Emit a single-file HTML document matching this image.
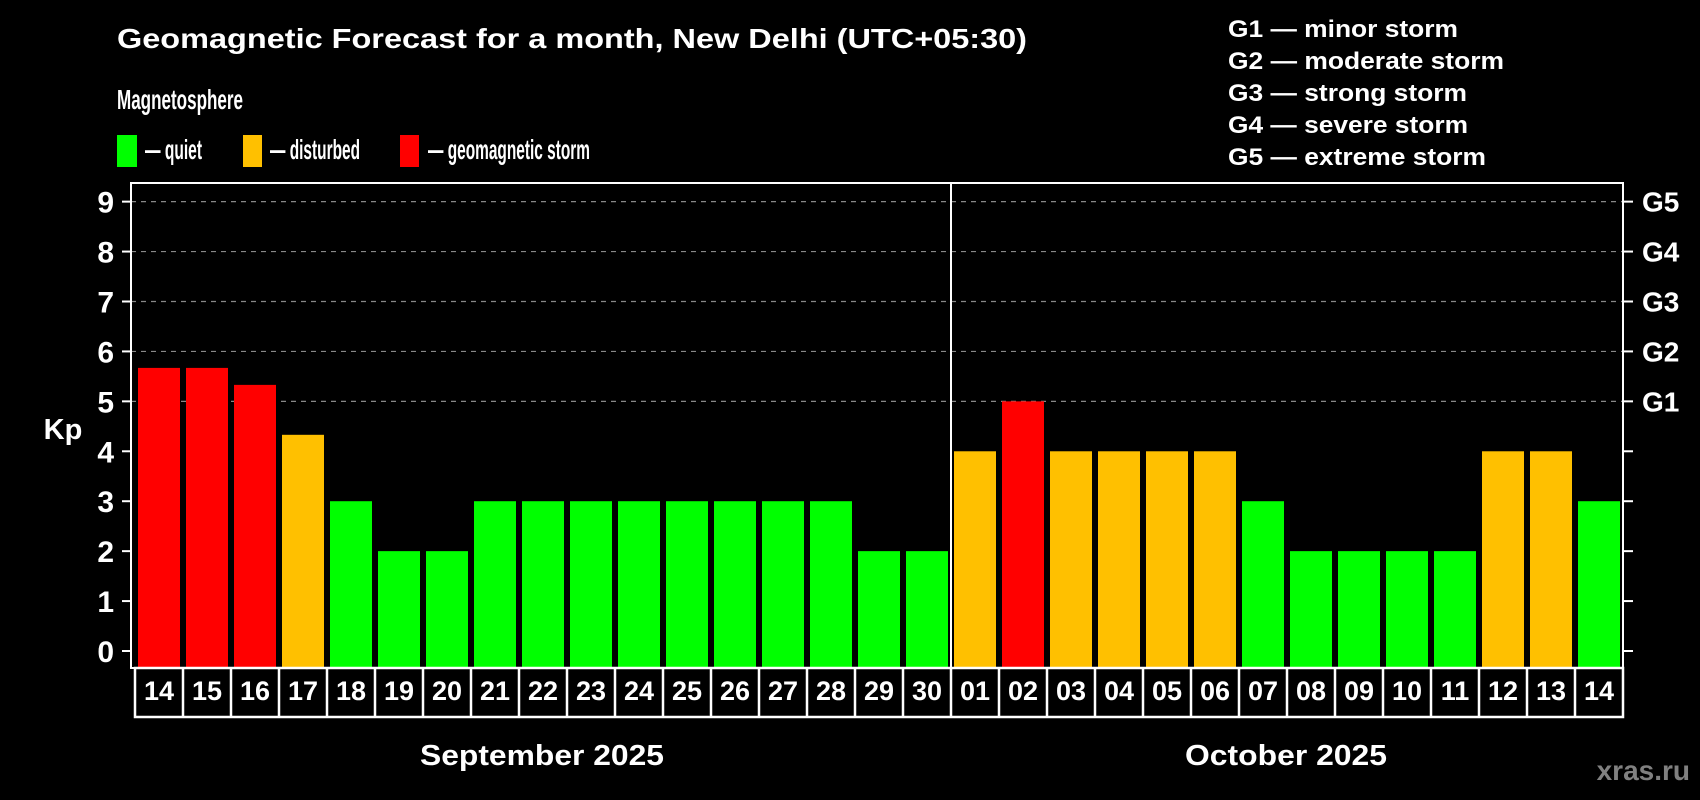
<!DOCTYPE html>
<html><head><meta charset="utf-8"><style>
html,body{margin:0;padding:0;background:#000;}
svg{display:block;font-family:"Liberation Sans",Arial,sans-serif;font-weight:bold;}
</style></head><body>
<svg id="chart" width="1700" height="800" viewBox="0 0 1700 800">
<rect x="0" y="0" width="1700" height="800" fill="#000"/>
<text x="117" y="48" fill="#fff" font-size="28" textLength="910" lengthAdjust="spacingAndGlyphs">Geomagnetic Forecast for a month, New Delhi (UTC+05:30)</text>
<text x="117" y="109" fill="#fff" font-size="28" textLength="126" lengthAdjust="spacingAndGlyphs">Magnetosphere</text>
<g>
<rect x="117" y="135" width="20" height="32" fill="#00ff00"/>
<text x="145" y="159" fill="#fff" font-size="28" textLength="57" lengthAdjust="spacingAndGlyphs">— quiet</text>
</g>
<g>
<rect x="243" y="135" width="19" height="32" fill="#ffc000"/>
<text x="270" y="159" fill="#fff" font-size="28" textLength="90" lengthAdjust="spacingAndGlyphs">— disturbed</text>
</g>
<g>
<rect x="400" y="135" width="19" height="32" fill="#ff0000"/>
<text x="428" y="159" fill="#fff" font-size="28" textLength="162" lengthAdjust="spacingAndGlyphs">— geomagnetic storm</text>
</g>
<g font-size="24" fill="#fff">
<text x="1228" y="37" textLength="230" lengthAdjust="spacingAndGlyphs">G1 — minor storm</text>
<text x="1228" y="69" textLength="276" lengthAdjust="spacingAndGlyphs">G2 — moderate storm</text>
<text x="1228" y="101" textLength="239" lengthAdjust="spacingAndGlyphs">G3 — strong storm</text>
<text x="1228" y="133" textLength="240" lengthAdjust="spacingAndGlyphs">G4 — severe storm</text>
<text x="1228" y="165" textLength="258" lengthAdjust="spacingAndGlyphs">G5 — extreme storm</text>
</g>
<text x="63" y="439" fill="#fff" font-size="29" text-anchor="middle">Kp</text>
<g id="grid"></g>
<g id="bars"></g>
<g id="axes"></g>
<g id="labels"></g>
<text x="542" y="765" fill="#fff" font-size="29" text-anchor="middle" textLength="244" lengthAdjust="spacingAndGlyphs">September 2025</text>
<text x="1286" y="765" fill="#fff" font-size="29" text-anchor="middle" textLength="202" lengthAdjust="spacingAndGlyphs">October 2025</text>
<text x="1690" y="780" fill="#808080" font-size="28" text-anchor="end">xras.ru</text>
</svg>
<script>
const days = ["14","15","16","17","18","19","20","21","22","23","24","25","26","27","28","29","30","01","02","03","04","05","06","07","08","09","10","11","12","13","14"];
const kpValues = [5.67,5.67,5.33,4.33,3,2,2,3,3,3,3,3,3,3,3,2,2,4,5,4,4,4,4,3,2,2,2,2,4,4,3];
const yTicks = [0,1,2,3,4,5,6,7,8,9];
const gLabels = ["G1","G2","G3","G4","G5"];
const gLevels = [5,6,7,8,9];
const monthSplitIndex = 17;

const NS = "http://www.w3.org/2000/svg";
const plotL = 131, plotR = 1623, plotT = 183, plotB = 668;
const y0 = 651, unit = 49.93;
const firstBar = 138, pitch = 48, barW = 42;
function yScale(v){ return y0 - v*unit; }
function xScale(i){ return firstBar + i*pitch; }
function mk(tag, attrs, parent){ const e=document.createElementNS(NS,tag); for(const k in attrs) e.setAttribute(k,attrs[k]); parent.appendChild(e); return e; }
function color(v){ return v>=5 ? "#ff0000" : (v>=4 ? "#ffc000" : "#00ff00"); }

const grid=document.getElementById("grid"), bars=document.getElementById("bars"), axes=document.getElementById("axes"), labels=document.getElementById("labels");

gLevels.forEach((lv,i)=>{
  const l = mk("line",{x1:plotL,x2:plotR,y1:yScale(lv),y2:yScale(lv),stroke:"#888","stroke-width":1.2,"stroke-dasharray":"5,5"},grid);
  
  
  const t = mk("text",{x:1642,y:yScale(lv)+10,fill:"#fff","font-size":28},axes);
  t.textContent = gLabels[i];
  
  
});

kpValues.forEach((v,i)=>{
  const top=yScale(v);
  const r = mk("rect",{x:xScale(i),y:top,width:barW,height:plotB-top,fill:color(v)},bars);
  
  
});

yTicks.forEach(v=>{
  const l = mk("line",{x1:122,x2:plotL,y1:yScale(v),y2:yScale(v),stroke:"#fff","stroke-width":2},axes);
  
  
  const r = mk("line",{x1:plotR,x2:1633,y1:yScale(v),y2:yScale(v),stroke:"#fff","stroke-width":2},axes);
  
  
  const t = mk("text",{x:114,y:yScale(v)+11,fill:"#fff","font-size":30,"text-anchor":"end"},axes);
  t.textContent = v;
  
  
});

const frame = mk("rect",{x:plotL,y:plotT,width:plotR-plotL,height:plotB-plotT,fill:"none",stroke:"#fff","stroke-width":2},axes);


const sx = xScale(monthSplitIndex)-3;
const sep = mk("line",{x1:sx,x2:sx,y1:plotT,y2:plotB,stroke:"#fff","stroke-width":2},axes);



const rowT = 668, rowB = 717;
const row = mk("rect",{x:135,y:rowT,width:plotR-135,height:rowB-rowT,fill:"none",stroke:"#fff","stroke-width":2.5},labels);


days.forEach((d,i)=>{
  if(i>0){
    const l = mk("line",{x1:xScale(i)-3,x2:xScale(i)-3,y1:rowT,y2:rowB,stroke:"#fff","stroke-width":2.5},labels);
    
    
  }
  const t = mk("text",{x:xScale(i)+barW/2,y:700,fill:"#fff","font-size":27,"text-anchor":"middle"},labels);
  t.textContent = d;
  
  
});
</script>
</body></html>
